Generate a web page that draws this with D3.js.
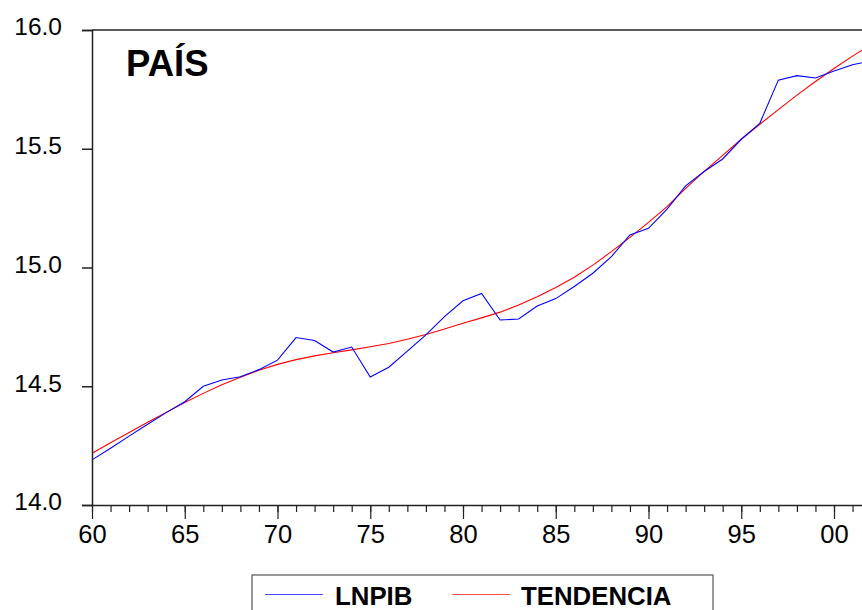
<!DOCTYPE html>
<html><head><meta charset="utf-8">
<script src="https://cdn.jsdelivr.net/npm/d3@7"></script>
<style>html,body{margin:0;padding:0;background:#fff;overflow:hidden}</style>
</head><body>
<svg id="c" width="862" height="610"></svg>
<script>
const years = d3.range(1960, 2003);
const lnpib = [14.19,14.239,14.29,14.34,14.389,14.435,14.50,14.526,14.54,14.57,14.61,14.705,14.693,14.644,14.665,14.539,14.58,14.648,14.716,14.793,14.86,14.891,14.779,14.783,14.838,14.869,14.92,14.976,15.046,15.137,15.165,15.246,15.344,15.404,15.457,15.54,15.607,15.789,15.808,15.798,15.827,15.854,15.87];
const tendencia = [14.218,14.262,14.305,14.348,14.39,14.432,14.47,14.506,14.538,14.567,14.592,14.612,14.628,14.641,14.653,14.666,14.68,14.698,14.718,14.741,14.765,14.788,14.812,14.842,14.877,14.916,14.959,15.01,15.067,15.127,15.19,15.256,15.333,15.405,15.472,15.54,15.603,15.665,15.726,15.783,15.838,15.89,15.94];
const yTicks = [14.0,14.5,15.0,15.5,16.0];
const xTickYears = [1960,1965,1970,1975,1980,1985,1990,1995,2000];
const seriesNames = ["LNPIB","TENDENCIA"];
const colors = ["#0000ff","#ff0000"];

const svg = d3.select("#c");
const x0 = 92, x1 = 92 + 42*18.55, yTop = 30, yBot = 505;
const x = d3.scaleLinear().domain([1960,2002]).range([x0, x1]);
const y = d3.scaleLinear().domain([14,16]).range([yBot, yTop]);
const font = "Arial, 'Liberation Sans', Helvetica, sans-serif";

const line = d3.line().x((d,i)=>x(years[i])).y(d=>y(d));
svg.append("path").datum(tendencia).attr("d", line).attr("fill","none").attr("stroke",colors[1]).attr("stroke-width",1.1);
svg.append("path").datum(lnpib).attr("d", line).attr("fill","none").attr("stroke",colors[0]).attr("stroke-width",1.1);

// frame
svg.append("line").attr("x1",x0).attr("x2",x1).attr("y1",yTop).attr("y2",yTop).attr("stroke","#222").attr("stroke-width",1.5);
svg.append("line").attr("x1",x1).attr("x2",x1).attr("y1",yTop).attr("y2",yBot).attr("stroke","#222").attr("stroke-width",1.5);

// y axis
const ya = svg.append("g").attr("transform",`translate(${x0},0)`)
  .call(d3.axisLeft(y).tickValues(yTicks).tickFormat(d3.format(".1f")).tickSize(10).tickPadding(20));
ya.select(".domain").attr("stroke","#222").attr("stroke-width",1.5);
ya.selectAll(".tick line").attr("stroke","#222").attr("stroke-width",1.5);
ya.selectAll("text").attr("font-family",font).attr("font-size",24.5).attr("fill","#000").attr("dy","0.2em");

// x axis minor
const xm = svg.append("g").attr("transform",`translate(0,${yBot})`)
  .call(d3.axisBottom(x).tickValues(years).tickFormat("").tickSize(7).tickSizeOuter(0));
xm.select(".domain").attr("stroke","#222").attr("stroke-width",1.5);
xm.selectAll(".tick line").attr("stroke","#222").attr("stroke-width",1.2);
const xa = svg.append("g").attr("transform",`translate(0,${yBot})`)
  .call(d3.axisBottom(x).tickValues(xTickYears).tickFormat(d=>String(d%100).padStart(2,"0")).tickSize(14).tickPadding(6).tickSizeOuter(0));
xa.select(".domain").remove();
xa.selectAll(".tick line").attr("stroke","#222").attr("stroke-width",1.2);
xa.selectAll("text").attr("font-family",font).attr("font-size",25.5).attr("fill","#000");

// title
svg.append("text").attr("x",126).attr("y",76).text("PAÍS")
  .attr("font-family",font).attr("font-weight","bold").attr("font-size",36.5).attr("fill","#000");

// legend
const lg = svg.append("g");
lg.append("rect").attr("x",252).attr("y",575).attr("width",461).attr("height",60).attr("fill","#fff").attr("stroke","#555").attr("stroke-width",1.2);
const items = [{lx:265, tx:335},{lx:452, tx:521}];
items.forEach((it,i)=>{
  lg.append("line").attr("x1",it.lx).attr("x2",it.lx+58).attr("y1",594.5).attr("y2",594.5).attr("stroke",colors[i]).attr("stroke-width",1.2).attr("stroke-opacity",0.7);
  lg.append("text").attr("x",it.tx).attr("y",604.5).text(seriesNames[i]).attr("font-family",font).attr("font-weight","bold").attr("font-size",25.8).attr("fill","#000");
});
</script>
</body></html>
